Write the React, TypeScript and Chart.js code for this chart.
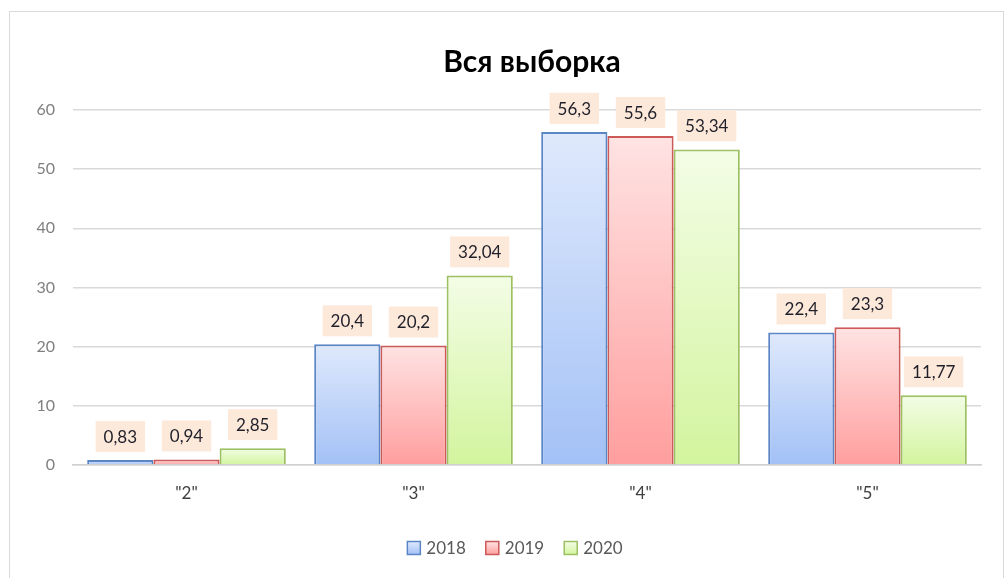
import React, { useEffect, useRef } from "react";
import { Chart, registerables } from "chart.js";

Chart.register(...registerables);

const categories = ['"2"', '"3"', '"4"', '"5"'];
const seriesNames = ["2018", "2019", "2020"];
const values2018 = [0.83, 20.4, 56.3, 22.4];
const values2019 = [0.94, 20.2, 55.6, 23.3];
const values2020 = [2.85, 32.04, 53.34, 11.77];
const yTicks = [0, 10, 20, 30, 40, 50, 60];
const titleText = "Вся выборка";

const FONT = "Lato, 'Open Sans', sans-serif";

const palettes = [
  { top: "#dfe9fc", bottom: "#a3c1f6", border: "#5b86c5" },
  { top: "#ffe3e3", bottom: "#ff9e9e", border: "#cc5a58" },
  { top: "#f3fde6", bottom: "#d3f49e", border: "#9dc062" },
];

function gradientFor(idx: number) {
  return (ctx: any) => {
    const chart = ctx.chart;
    const ys = chart.scales && chart.scales.y;
    const p = palettes[idx];
    if (!ys || ctx.raw === undefined) return p.bottom;
    const top = ys.getPixelForValue(ctx.raw);
    const bottom = ys.getPixelForValue(0);
    if (!isFinite(top) || !isFinite(bottom) || Math.abs(bottom - top) < 1) return p.bottom;
    const g = chart.ctx.createLinearGradient(0, top, 0, bottom);
    g.addColorStop(0, p.top);
    g.addColorStop(1, p.bottom);
    return g;
  };
}

const fmt = (v: number) => String(v).replace(".", ",");

const overlayPlugin = {
  id: "overlay",
  afterDatasetsDraw(chart: any) {
    const ctx = chart.ctx;
    ctx.save();
    ctx.font = `17px ${FONT}`;
    ctx.textAlign = "center";
    ctx.textBaseline = "middle";
    chart.data.datasets.forEach((ds: any, di: number) => {
      const meta = chart.getDatasetMeta(di);
      meta.data.forEach((bar: any, i: number) => {
        const txt = fmt(ds.data[i]);
        const w = ctx.measureText(txt).width + 16;
        const h = 31;
        const bottom = bar.y - 8;
        ctx.fillStyle = "#fde9da";
        ctx.fillRect(bar.x - w / 2, bottom - h, w, h);
        ctx.fillStyle = "#1f1f2a";
        ctx.fillText(txt, bar.x, bottom - h / 2 + 1);
      });
    });
    ctx.restore();
  },
  afterDraw(chart: any) {
    const ctx = chart.ctx;
    ctx.save();
    // title
    ctx.font = `bold 30px ${FONT}`;
    ctx.fillStyle = "#000000";
    ctx.textAlign = "center";
    ctx.textBaseline = "middle";
    ctx.fillText(titleText, 532, 62);
    // legend
    ctx.font = `17px ${FONT}`;
    ctx.textAlign = "left";
    ctx.textBaseline = "middle";
    const y = 548;
    const gap = 20;
    const box = 13;
    const widths = seriesNames.map((n) => box + 6 + ctx.measureText(n).width);
    const total = widths.reduce((a, b) => a + b, 0) + gap * (seriesNames.length - 1);
    let x = 515 - total / 2;
    seriesNames.forEach((n, i) => {
      const p = palettes[i];
      const g = ctx.createLinearGradient(0, y - box / 2, 0, y + box / 2);
      g.addColorStop(0, p.top);
      g.addColorStop(1, p.bottom);
      ctx.fillStyle = g;
      ctx.fillRect(x, y - box / 2, box, box);
      ctx.strokeStyle = p.border;
      ctx.lineWidth = 1.5;
      ctx.strokeRect(x, y - box / 2, box, box);
      ctx.fillStyle = "#595959";
      ctx.fillText(n, x + box + 6, y + 1);
      x += widths[i] + gap;
    });
    ctx.restore();
  },
};

export default function App() {
  const ref = useRef<HTMLCanvasElement>(null);
  useEffect(() => {
    if (!ref.current) return;
    const allData = [values2018, values2019, values2020];
    const chart = new Chart(ref.current, {
      type: "bar",
      data: {
        labels: categories,
        datasets: seriesNames.map((name, i) => ({
          label: name,
          data: allData[i],
          backgroundColor: gradientFor(i),
          borderColor: palettes[i].border,
          borderWidth: 2,
          categoryPercentage: 0.875,
          barPercentage: 1,
        })),
      },
      options: {
        animation: false,
        responsive: false,
        maintainAspectRatio: false,
        layout: { padding: { left: 0, right: 27, top: 110, bottom: 73 } },
        plugins: {
          legend: { display: false },
          title: { display: false },
          tooltip: { enabled: false },
        },
        scales: {
          x: {
            grid: { display: false, drawTicks: false },
            border: { display: true, color: "#d0d0d0", width: 1.5 },
            ticks: {
              padding: 18,
              color: "#404040",
              font: { family: FONT, size: 17 },
            },
            afterFit: (s: any) => {
              s.height = 40;
            },
          },
          y: {
            min: 0,
            max: 60,
            afterBuildTicks: (s: any) => {
              s.ticks = yTicks.map((v) => ({ value: v }));
            },
            grid: { color: "#d9d9d9", lineWidth: 1.5, drawTicks: false },
            border: { display: false },
            ticks: {
              padding: 18,
              color: "#7f7f7f",
              font: { family: FONT, size: 16 },
            },
            afterFit: (s: any) => {
              s.width = 73;
            },
          },
        },
      },
      plugins: [overlayPlugin],
    });
    return () => chart.destroy();
  }, []);
  return (
    <div style={{ position: "absolute", left: 0, top: 0, width: 1008, height: 578, background: "#fff" }}>
      <div
        style={{
          position: "absolute",
          left: 9,
          top: 11,
          width: 995,
          height: 580,
          border: "1px solid #d9d9d9",
          boxSizing: "border-box",
        }}
      />
      <canvas ref={ref} width={1008} height={578} style={{ position: "absolute", left: 0, top: 0 }} />
    </div>
  );
}
